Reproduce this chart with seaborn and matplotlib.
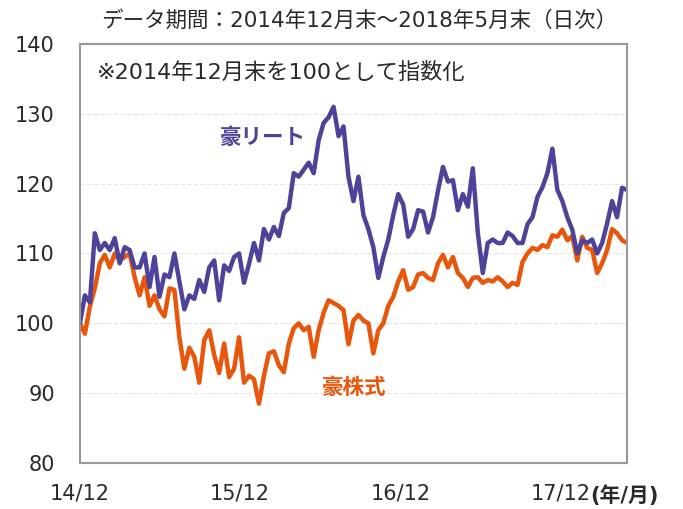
import pandas as pd
import numpy as np
import seaborn as sns
import matplotlib
matplotlib.use("Agg")
import matplotlib.pyplot as plt

# index levels, ~11-day steps from end Dec 2014 to end May 2018
reit = [100, 104, 103, 112.9, 110.5, 111.5, 110.5, 112.2, 108.6, 110.9,
        110.5, 108, 108, 110, 105.2, 109.5, 103.8, 107, 106.6, 110,
        106, 102, 104, 103.5, 106.2, 104.5, 108, 109, 103.3, 108.3,
        107.5, 109.5, 110, 105.8, 108.5, 111.5, 109, 113.5, 112, 113.8,
        112.5, 115.8, 116.5, 121.5, 121, 122, 123, 121.5, 126.2, 128.7,
        129.5, 131, 126.8, 128.2, 121, 117.5, 121, 115.5, 113.5, 110.9,
        106.5, 109.5, 112, 115.5, 118.5, 117, 112.4, 113.5, 116.2, 116,
        113, 115.2, 119, 122.4, 120.3, 120.5, 116.2, 118.5, 116.7, 122.2,
        113, 107.2, 111.5, 112, 111.5, 111.5, 113, 112.5, 111.5, 111.5,
        114.2, 115.2, 118.1, 119.5, 121.5, 125, 119.1, 117.5, 115.2, 113.4,
        110, 111.9, 111.5, 112, 110, 111.5, 114.3, 117.5, 115.2, 119.4,
        119.1]

stocks = [100, 98.5, 102.4, 105, 108.6, 109.8, 108, 110, 109, 109.5,
          110, 106.6, 104, 106.6, 102.5, 104, 102, 101, 105, 104.8,
          98, 93.5, 96.5, 95.2, 91.5, 97.6, 99, 95.5, 92.9, 97.1,
          92.3, 93.5, 98, 91.5, 92.5, 92, 88.5, 92.5, 95.7, 96,
          94, 93, 97.1, 99.3, 100, 99, 99.5, 95.2, 99, 101.5,
          103.3, 102.9, 102.5, 101.9, 97, 100.4, 101.2, 100.4, 100, 95.7,
          99, 100, 102.5, 103.8, 106, 107.6, 104.8, 105.2, 107, 107.2,
          106.5, 106.2, 108.6, 109.8, 108, 109.5, 107.2, 106.5, 105.2, 106.5,
          106.6, 105.8, 106.2, 106, 106.6, 106, 105.2, 105.8, 105.5, 108.8,
          110, 110.8, 110.5, 111.2, 110.9, 112.6, 112.4, 113.4, 111.9, 112.5,
          109, 112.4, 110.8, 110.5, 107.2, 108.6, 110.5, 113.5, 112.9, 111.9,
          111.5]

tick_dates = ["2014-12-31", "2015-12-31", "2016-12-31", "2017-12-31"]
tick_labels = ["14/12", "15/12", "16/12", "17/12"]

dates = pd.date_range("2014-12-31", "2018-05-31", periods=len(reit))
df = pd.DataFrame({"Date": dates, "reit": reit, "stocks": stocks})

sns.set_theme(style="white")
plt.rcParams["font.family"] = ["DejaVu Sans", "Noto Sans CJK JP"]

purple = "#4d4499"
orange = "#e8560c"
txt = "#2a2a2a"

fig = plt.figure(figsize=(6.83, 5.09), dpi=100)
ax = fig.add_axes([0.117, 0.0904, 0.801, 0.8232])

sns.lineplot(data=df, x="Date", y="stocks", color=orange, linewidth=3.2, ax=ax)
sns.lineplot(data=df, x="Date", y="reit", color=purple, linewidth=3.2, ax=ax)

ax.set_xlim(pd.Timestamp("2014-12-31"), pd.Timestamp("2018-05-31"))
ax.set_ylim(80, 140)
ax.set_yticks(range(80, 141, 10))
ax.set_xticks(pd.to_datetime(tick_dates))
ax.set_xticklabels(tick_labels)
ax.set_xlabel("")
ax.set_ylabel("")

ax.tick_params(axis="y", length=0, pad=18, labelsize=15, labelcolor=txt)
ax.tick_params(axis="x", direction="in", length=6, width=1, color="#999999",
               pad=15, labelsize=15, labelcolor=txt)
ax.yaxis.grid(True, color="#e4e4e4", linestyle=(0, (4, 2)), linewidth=0.8)
ax.set_axisbelow(True)
for s in ax.spines.values():
    s.set_color("#999999")
    s.set_linewidth(1.5)

fig.text(359 / 683, 1 - 20 / 509, "データ期間：2014年12月末～2018年5月末（日次）",
         ha="center", va="center", fontsize=15.5, color=txt)
ax.text(0.031, 0.933, "※2014年12月末を100として指数化", transform=ax.transAxes,
        ha="left", va="center", fontsize=16, color=txt)
ax.text(0.256, 0.776, "豪リート", transform=ax.transAxes, ha="left", va="center",
        fontsize=15.5, color=purple, fontweight="bold")
ax.text(0.442, 0.179, "豪株式", transform=ax.transAxes, ha="left", va="center",
        fontsize=15.5, color=orange, fontweight="bold")
fig.text(590 / 683, 1 - 496 / 509, "(年/月)", ha="left", va="center",
         fontsize=15, color=txt, fontweight="bold")

fig.savefig("out.png", dpi=100)
